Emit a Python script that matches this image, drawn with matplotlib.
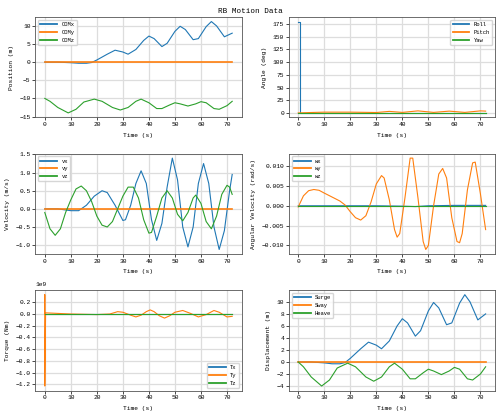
import numpy as np
import matplotlib
matplotlib.use('Agg')
import matplotlib.pyplot as plt

plt.rcParams['font.family'] = ['Liberation Mono', 'DejaVu Sans Mono']
plt.rcParams['font.size'] = 4.5

## position (COM)
t_comx = [0, 5, 10, 13, 16, 18, 20, 24, 27, 30, 32, 35, 38, 40, 42, 45, 47, 50, 52, 54, 57, 59, 62, 64, 66, 69, 72]
comx = [0, 0, -0.15, -0.3, -0.3, -0.1, 0.6, 2.2, 3.3, 2.8, 2.2, 3.5, 6.0, 7.2, 6.5, 4.3, 5.2, 8.5, 9.9, 9.0, 6.2, 6.5, 9.8, 11.2, 10.0, 7.0, 8.0]
t_comz = [0, 2, 5, 9, 12, 15, 19, 22, 26, 29, 32, 35, 37, 40, 43, 45, 48, 50, 52, 55, 58, 60, 62, 65, 67, 70, 72]
comz = [-10, -10.8, -12.5, -14, -13, -11, -10.2, -10.8, -12.5, -13.2, -12.5, -10.8, -10.2, -11.2, -12.8, -12.8, -11.8, -11.2, -11.5, -12.1, -11.5, -10.9, -11.2, -12.8, -13, -12, -10.8]
t_full = [0, 72]
zero = [0, 0]

## angles
t_roll = [0, 0.5, 0.5, 72]
roll = [180, 180, 0, 0]
t_pitch = [0, 5, 10, 20, 30, 35, 40, 46, 52, 58, 64, 70, 72]
pitch = [0, 0.8, 1.5, 1.5, 0.8, 3.0, 1.0, 4.0, 1.0, 3.5, 1.0, 4.0, 3.5]
t_yaw = [0, 72]
yaw = [0, 0]

## velocity
t_vx = [0, 5, 10, 13, 16, 19, 22, 24, 27, 30, 31, 33, 35, 37, 39, 41, 43, 45, 47, 49, 51, 53, 55, 57, 59, 61, 63, 65, 67, 69, 71, 72]
vx = [0, 0, -0.05, -0.05, 0.1, 0.35, 0.5, 0.45, 0.1, -0.32, -0.3, 0.1, 0.7, 1.05, 0.7, -0.3, -0.87, -0.4, 0.6, 1.4, 0.8, -0.5, -1.05, -0.5, 0.7, 1.25, 0.7, -0.5, -1.12, -0.6, 0.5, 0.95]
t_vz = [0, 2, 4, 6, 8, 10, 12, 14, 16, 18, 20, 22, 24, 26, 28, 30, 32, 34, 36, 38, 40, 41, 43, 45, 47, 49, 51, 53, 55, 57, 58, 60, 62, 64, 66, 68, 70, 71, 72]
vz = [-0.1, -0.55, -0.73, -0.55, -0.1, 0.25, 0.55, 0.63, 0.5, 0.2, -0.2, -0.45, -0.5, -0.35, 0.0, 0.35, 0.6, 0.6, 0.3, -0.3, -0.67, -0.65, -0.2, 0.3, 0.5, 0.3, -0.15, -0.33, -0.1, 0.3, 0.38, 0.15, -0.35, -0.55, -0.2, 0.4, 0.65, 0.6, 0.4]

## angular velocity
t_wy = [0, 2, 4, 6, 8, 10, 13, 16, 18, 20, 22, 24, 26, 28, 30, 32, 33, 35, 37, 38, 39, 41, 43, 44, 46, 48, 49, 50, 52, 54, 55.5, 57, 59, 61, 62, 63, 65, 67, 68, 70, 72]
wy = [-0.3, 2.5, 3.8, 4.1, 3.9, 3.2, 2.2, 1.2, 0.2, -1.5, -3.0, -3.6, -2.5, 1.0, 5.5, 7.6, 7.0, 1.5, -6.0, -7.9, -7.0, 2.0, 12.0, 12.0, 2.0, -9.0, -11.0, -10.0, 0.0, 8.0, 9.4, 7.0, -3.0, -9.0, -9.3, -7.0, 4.0, 10.8, 11.0, 3.0, -6.0]
wy = [v * 1e-3 for v in wy]
t_wx = [0, 30, 40, 45, 50, 60, 72]
wx = [0, 0, -0.1e-3, -0.2e-3, 0, 0.1e-3, 0.1e-3]

## torque (x1e9)
t_ty = [0, 0, 0, 0.3, 5, 10, 20, 25, 28, 30, 33, 35, 37, 39, 40.5, 42, 44, 46, 48, 50, 53, 56, 59, 62, 65, 67, 70, 72]
ty = [0, 0.33, -1.23, 0.02, 0.01, 0.0, -0.01, 0.0, 0.04, 0.03, -0.02, -0.05, -0.02, 0.04, 0.07, 0.04, -0.03, -0.07, -0.03, 0.03, 0.06, 0.01, -0.05, -0.01, 0.06, 0.03, -0.05, -0.04]
ty = [v * 1e9 for v in ty]

heave = [v + 10 for v in comz]

fig, axs = plt.subplots(3, 2, figsize=(5, 4.16), dpi=100)
fig.suptitle('RB Motion Data', fontsize=5.5)

def style(ax, ylabel, loc, yticks):
    ax.set_xlabel('Time (s)')
    ax.set_ylabel(ylabel)
    ax.set_xticks(range(0, 80, 10))
    ax.set_yticks(yticks)
    ax.grid(True, color='#dddddd', linewidth=0.9)
    ax.tick_params(length=2, width=0.5, pad=1.5)
    for s in ax.spines.values():
        s.set_linewidth(0.6)
        s.set_color('#555555')
    leg = ax.legend(loc=loc, fontsize=4, handlelength=3)
    for l in leg.get_lines():
        l.set_linewidth(1.3)

ax = axs[0, 0]
ax.plot(t_comx, comx, lw=0.8, label='COMx')
ax.plot(t_full, zero, lw=1.2, label='COMy')
ax.plot(t_comz, comz, lw=0.8, label='COMz')
style(ax, 'Position (m)', 'upper left', [-15, -10, -5, 0, 5, 10])

ax = axs[0, 1]
ax.plot(t_roll, roll, lw=0.8, label='Roll')
ax.plot(t_pitch, pitch, lw=0.8, label='Pitch')
ax.plot(t_yaw, yaw, lw=0.8, label='Yaw')
style(ax, 'Angle (deg)', 'upper right', range(0, 200, 25))

ax = axs[1, 0]
ax.plot(t_vx, vx, lw=0.8, label='vx')
ax.plot(t_full, zero, lw=1.2, label='vy')
ax.plot(t_vz, vz, lw=0.8, label='vz')
style(ax, 'Velocity (m/s)', 'upper left', [-1.0, -0.5, 0.0, 0.5, 1.0, 1.5])

ax = axs[1, 1]
ax.plot(t_wx, wx, lw=0.8, label='wx')
ax.plot(t_wy, wy, lw=0.8, label='wy')
ax.plot(t_full, zero, lw=0.8, label='wz')
style(ax, 'Angular Velocity (rad/s)', 'upper left', [-0.01, -0.005, 0.0, 0.005, 0.01])

ax = axs[2, 0]
ax.plot(t_full, zero, lw=0.8, label='Tx')
ax.plot(t_ty, ty, lw=0.8, label='Ty')
ax.plot(t_full, zero, lw=0.8, label='Tz')
style(ax, 'Torque (Nm)', 'lower right', [v * 1e9 for v in [-1.2, -1.0, -0.8, -0.6, -0.4, -0.2, 0.0, 0.2]])
ax.yaxis.get_offset_text().set_fontsize(4.5)

ax = axs[2, 1]
ax.plot(t_comx, comx, lw=0.8, label='Surge')
ax.plot(t_full, zero, lw=1.2, label='Sway')
ax.plot(t_comz, heave, lw=0.8, label='Heave')
style(ax, 'Displacement (m)', 'upper left', [-4, -2, 0, 2, 4, 6, 8, 10])

fig.tight_layout(pad=0.8, h_pad=1.2, w_pad=1.5)
fig.savefig('out.png', dpi=100)
